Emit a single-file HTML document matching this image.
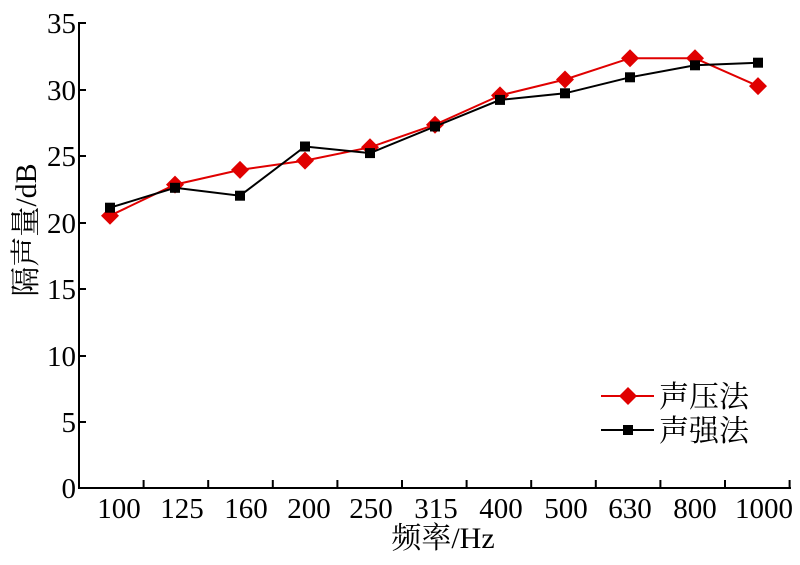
<!DOCTYPE html>
<html><head><meta charset="utf-8"><style>
body{margin:0;background:#fff}
text{font-family:"Liberation Serif","Noto Serif CJK SC",serif;fill:#000}
</style></head><body>
<svg width="800" height="560" xmlns="http://www.w3.org/2000/svg">
<g stroke="#000" stroke-width="2" fill="none">
<line x1="79" y1="22" x2="79" y2="489"/>
<line x1="78" y1="488" x2="791" y2="488"/>
<line x1="79" y1="23" x2="86" y2="23"/>
<line x1="79" y1="90" x2="86" y2="90"/>
<line x1="79" y1="156" x2="86" y2="156"/>
<line x1="79" y1="223" x2="86" y2="223"/>
<line x1="79" y1="289" x2="86" y2="289"/>
<line x1="79" y1="356" x2="86" y2="356"/>
<line x1="79" y1="422" x2="86" y2="422"/>
<g>
<line x1="143.6" y1="488" x2="143.6" y2="480"/>
<line x1="208.2" y1="488" x2="208.2" y2="480"/>
<line x1="272.8" y1="488" x2="272.8" y2="480"/>
<line x1="337.4" y1="488" x2="337.4" y2="480"/>
<line x1="402" y1="488" x2="402" y2="480"/>
<line x1="466.6" y1="488" x2="466.6" y2="480"/>
<line x1="531.2" y1="488" x2="531.2" y2="480"/>
<line x1="595.8" y1="488" x2="595.8" y2="480"/>
<line x1="660.4" y1="488" x2="660.4" y2="480"/>
<line x1="725" y1="488" x2="725" y2="480"/>
<line x1="789.6" y1="488" x2="789.6" y2="480"/>
</g>
</g>
<g font-size="29" text-anchor="end">
<text x="76" y="33">35</text>
<text x="76" y="100">30</text>
<text x="76" y="166">25</text>
<text x="76" y="233">20</text>
<text x="76" y="299">15</text>
<text x="76" y="366">10</text>
<text x="76" y="432">5</text>
<text x="76" y="498">0</text>
</g>
<g font-size="29" text-anchor="middle">
<text x="119" y="518">100</text>
<text x="182" y="518">125</text>
<text x="246" y="518">160</text>
<text x="309" y="518">200</text>
<text x="371" y="518">250</text>
<text x="436" y="518">315</text>
<text x="501" y="518">400</text>
<text x="566" y="518">500</text>
<text x="630" y="518">630</text>
<text x="695" y="518">800</text>
<text x="764" y="518">1000</text>
</g>
<text x="443" y="548" font-size="30" text-anchor="middle">频率/Hz</text>
<text transform="translate(36,230) rotate(-90)" font-size="30" text-anchor="middle">隔声量/dB</text>
<polyline fill="none" stroke="#e00000" stroke-width="2" points="110,215.7 175,184.6 240,169.9 305,160.6 370,147.3 435,124.7 500,95.4 565,79.5 630,58.2 695,58.2 758,86.1"/>
<g fill="#e00000">
<polygon points="110,206.7 119,215.7 110,224.7 101,215.7"/>
<polygon points="175,175.6 184,184.6 175,193.6 166,184.6"/>
<polygon points="240,160.9 249,169.9 240,178.9 231,169.9"/>
<polygon points="305,151.6 314,160.6 305,169.6 296,160.6"/>
<polygon points="370,138.3 379,147.3 370,156.3 361,147.3"/>
<polygon points="435,115.7 444,124.7 435,133.7 426,124.7"/>
<polygon points="500,86.4 509,95.4 500,104.4 491,95.4"/>
<polygon points="565,70.5 574,79.5 565,88.5 556,79.5"/>
<polygon points="630,49.2 639,58.2 630,67.2 621,58.2"/>
<polygon points="695,49.2 704,58.2 695,67.2 686,58.2"/>
<polygon points="758,77.1 767,86.1 758,95.1 749,86.1"/>
</g>
<polyline fill="none" stroke="#000" stroke-width="2" points="110,207.7 175,187.8 240,195.7 305,146.5 370,153.1 435,126.5 500,99.9 565,93.3 630,77.3 695,65.3 758,62.7"/>
<g fill="#000">
<rect x="105" y="202.7" width="10" height="10"/>
<rect x="170" y="182.8" width="10" height="10"/>
<rect x="235" y="190.7" width="10" height="10"/>
<rect x="300" y="141.5" width="10" height="10"/>
<rect x="365" y="148.1" width="10" height="10"/>
<rect x="430" y="121.5" width="10" height="10"/>
<rect x="495" y="94.9" width="10" height="10"/>
<rect x="560" y="88.3" width="10" height="10"/>
<rect x="625" y="72.3" width="10" height="10"/>
<rect x="690" y="60.3" width="10" height="10"/>
<rect x="753" y="57.7" width="10" height="10"/>
</g>
<line x1="601" y1="396" x2="654" y2="396" stroke="#e00000" stroke-width="2"/>
<polygon points="628,387 637,396 628,405 619,396" fill="#e00000"/>
<line x1="601" y1="430" x2="654" y2="430" stroke="#000" stroke-width="2"/>
<rect x="623" y="425" width="10" height="10" fill="#000"/>
<text x="659" y="407" font-size="30">声压法</text>
<text x="659" y="441" font-size="30">声强法</text>
</svg>
</body></html>
